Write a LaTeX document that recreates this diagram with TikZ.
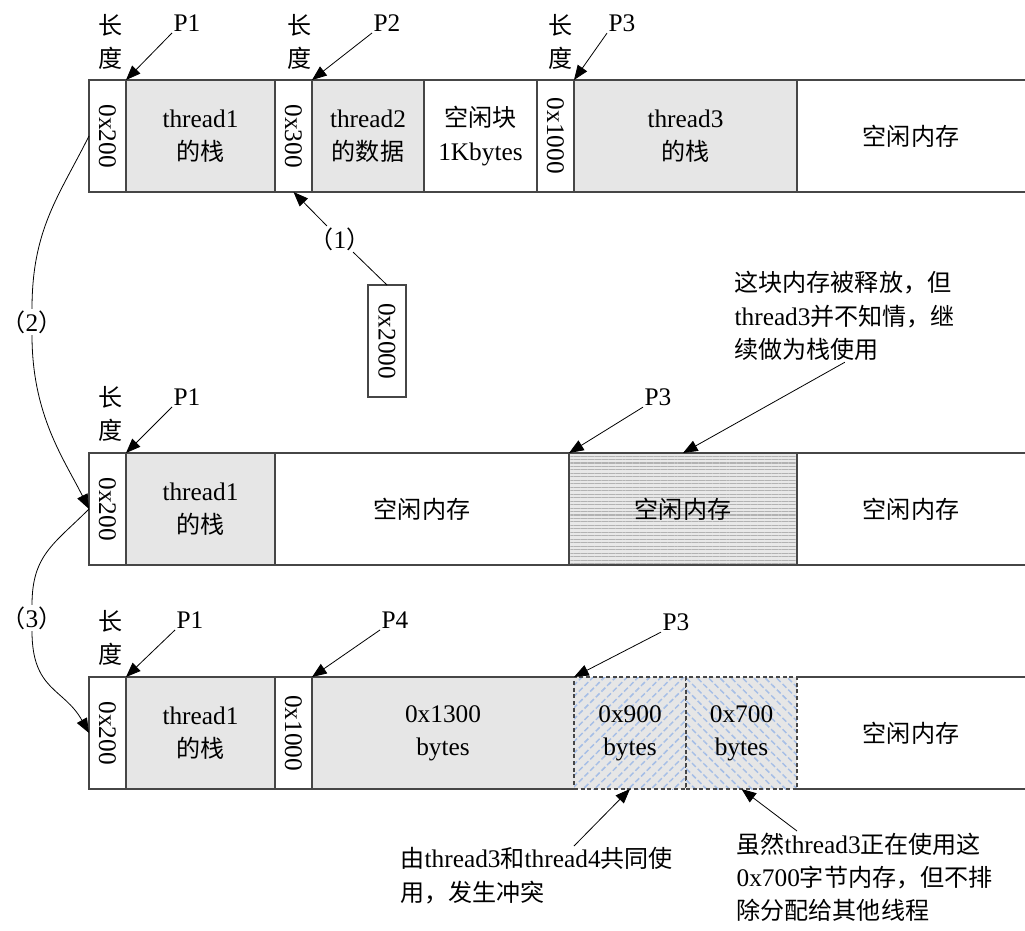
\documentclass[tikz,border=0pt]{standalone}
\usepackage{fontspec}
\setmainfont{Liberation Serif}
\newfontfamily\zhfont[Scale=0.95]{Noto Sans CJK SC}
\newcommand{\zh}[1]{{\zhfont #1}}
\newcommand{\stepno}[1]{\hspace*{-0.45em}\zh{（}#1\zh{）}\hspace*{-0.45em}}
\usepackage{graphicx}
\usetikzlibrary{positioning, arrows.meta, patterns.meta, calc}
\definecolor{cellgray}{RGB}{230, 230, 230}
\definecolor{linegray}{RGB}{70, 70, 70}
\definecolor{hatchblue}{RGB}{165, 190, 230}

\tikzset{
  cell/.style={draw=linegray, line width=0.9pt, minimum height=112*0.75pt,
    inner sep=0pt, outer sep=0pt, align=center},
  cellw/.style={minimum width=#1*0.75pt},
  used/.style={cell, fill=cellgray},
  shared/.style={cell, dashed, dash pattern=on 3pt off 2pt, preaction={fill=cellgray},
    pattern={Lines[angle=#1, distance=6pt, line width=1.1pt]}, pattern color=hatchblue},
  border/.style={draw=linegray, line width=0.9pt},
  lbl/.style={inner sep=1pt, align=center},
  note/.style={inner sep=1pt, align=left},
}

\begin{document}
\fontsize{19}{25}\selectfont
\begin{tikzpicture}[x=0.75pt, y=-0.75pt, >={Triangle[length=11pt, width=8.5pt]}]
  \useasboundingbox (0,0) rectangle (1025,931);

  % row 1
  \node[cell, cellw=37, anchor=west] (r1s1) at (89,136) {\rotatebox{-90}{0x200}};
  \node[used, cellw=149, right=0pt of r1s1] (r1t1) {thread1\\\zh{的栈}};
  \node[cell, cellw=37, right=0pt of r1t1] (r1s2) {\rotatebox{-90}{0x300}};
  \node[used, cellw=112, right=0pt of r1s2] (r1t2) {thread2\\\zh{的数据}};
  \node[cell, cellw=113, right=0pt of r1t2] (r1free) {\zh{空闲块}\\1Kbytes};
  \node[cell, cellw=37, right=0pt of r1free] (r1s3) {\rotatebox{-90}{0x1000}};
  \node[used, cellw=223, right=0pt of r1s3] (r1t3) {thread3\\\zh{的栈}};
  \node[cell, draw=none, cellw=228, right=0pt of r1t3] (r1rest) {\zh{空闲内存}};
  \draw[border] (r1rest.north west) -- (r1rest.north east)
    (r1rest.south west) -- (r1rest.south east);

  \node[lbl, font=\zhfont] (r1l1) at (111,42) {长\\度};
  \node[lbl, font=\zhfont] (r1l2) at (300,42) {长\\度};
  \node[lbl, font=\zhfont] (r1l3) at (561,42) {长\\度};
  \node[lbl] (r1p1) at (187,23) {P1};
  \node[lbl] (r1p2) at (387,23) {P2};
  \node[lbl] (r1p3) at (622,23) {P3};
  \draw[->, line width=0.6pt] (r1p1.south west) -- (r1t1.north west);
  \draw[->, line width=0.6pt] (r1p2.south west) -- (r1t2.north west);
  \draw[->, line width=0.6pt] (r1p3.south west) -- (r1t3.north west);

  % step (1)
  \node[lbl] (lab1) at (340,239) {\stepno{1}};
  \node[cell, cellw=38] (blk) at (387,341) {\rotatebox{-90}{0x2000}};
  \draw[->, line width=0.6pt] (lab1.135) -- (r1s2.south);
  \draw[line width=0.6pt] (lab1.-45) -- (blk.north);

  % row 2
  \node[cell, cellw=37, anchor=west] (r2s1) at (89,509) {\rotatebox{-90}{0x200}};
  \node[used, cellw=149, right=0pt of r2s1] (r2t1) {thread1\\\zh{的栈}};
  \node[cell, cellw=294, right=0pt of r2t1] (r2free) {\zh{空闲内存}};
  \node[cell, cellw=228, right=0pt of r2free, preaction={fill=gray!18},
    pattern={Lines[angle=0, distance=2.6pt, line width=0.8pt]}, pattern color=gray!60] (r2lost) {\zh{空闲内存}};
  \node[cell, draw=none, cellw=228, right=0pt of r2lost] (r2rest) {\zh{空闲内存}};
  \draw[border] (r2rest.north west) -- (r2rest.north east)
    (r2rest.south west) -- (r2rest.south east);

  \node[lbl, font=\zhfont] (r2l1) at (111,414) {长\\度};
  \node[lbl] (r2p1) at (187,397) {P1};
  \node[lbl] (r2p3) at (658,397) {P3};
  \draw[->, line width=0.6pt] (r2p1.south west) -- (r2t1.north west);
  \draw[->, line width=0.6pt] (r2p3.south west) -- (r2lost.north west);
  \node[note, anchor=north west] (note2) at (733,270)
    {\zh{这块内存被释放，但}\\thread3\zh{并不知情，继}\\\zh{续做为栈使用}};
  \draw[->, line width=0.6pt] (note2.south) -- (r2lost.north);

  % row 3
  \node[cell, cellw=37, anchor=west] (r3s1) at (89,733) {\rotatebox{-90}{0x200}};
  \node[used, cellw=149, right=0pt of r3s1] (r3t1) {thread1\\\zh{的栈}};
  \node[cell, draw=none, fill=cellgray, cellw=262, anchor=west] (r3t4) at (312,733) {0x1300\\bytes};
  \node[cell, cellw=37, right=0pt of r3t1] (r3s2) {\rotatebox{-90}{0x1000}};
  \draw[border] (r3t4.north west) -- (r3t4.north east)
    (r3t4.south west) -- (r3t4.south east);
  \node[shared=45, cellw=112, right=0pt of r3t4] (r3share) {0x900\\bytes};
  \node[shared=-45, cellw=111, right=0pt of r3share] (r3keep) {0x700\\bytes};
  \node[cell, draw=none, cellw=228, right=0pt of r3keep] (r3rest) {\zh{空闲内存}};
  \draw[border] (r3rest.north west) -- (r3rest.north east)
    (r3rest.south west) -- (r3rest.south east);

  \node[lbl, font=\zhfont] (r3l1) at (111,638) {长\\度};
  \node[lbl] (r3p1) at (190,620) {P1};
  \node[lbl] (r3p4) at (395,620) {P4};
  \node[lbl] (r3p3) at (676,622) {P3};
  \draw[->, line width=0.6pt] (r3p1.south west) -- (r3t1.north west);
  \draw[->, line width=0.6pt] (r3p4.south west) -- (r3t4.north west);
  \draw[->, line width=0.6pt] (r3p3.south west) -- (r3share.north west);

  \node[note, anchor=north west] (note3a) at (399,846)
    {\zh{由}thread3\zh{和}thread4\zh{共同使}\\\zh{用，发生冲突}};
  \node[note, anchor=north west] (note3b) at (735,831)
    {\zh{虽然}thread3\zh{正在使用这}\\0x700\zh{字节内存，但不排}\\\zh{除分配给其他线程}};
  \draw[->, line width=0.6pt] (note3a.north -| r3share.west) -- (r3share.south);
  \draw[->, line width=0.6pt] (note3b.north -| r3keep.east) -- (r3keep.south);

  % steps (2) and (3)
  \node[lbl] (lab2) at (32,322) {\stepno{2}};
  \node[lbl] (lab3) at (32,618) {\stepno{3}};
  \draw[line width=0.6pt] (r1s1.west) .. controls +(-30,60) and +(0,-80) .. (lab2.north);
  \draw[->, line width=0.6pt] (lab2.south) .. controls +(0,80) and +(-25,-50) .. (r2s1.west);
  \draw[line width=0.6pt] (r2s1.west) .. controls +(-35,35) and +(0,-50) .. (lab3.north);
  \draw[->, line width=0.6pt] (lab3.south) .. controls +(0,60) and +(-25,-45) .. (r3s1.west);
\end{tikzpicture}
\end{document}
